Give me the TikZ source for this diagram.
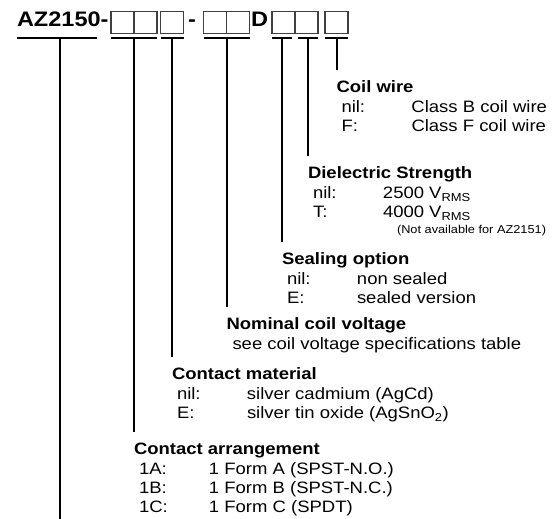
\documentclass[tikz,border=0pt]{standalone}
\usepackage{fontspec}
\setmainfont{Liberation Sans}[FakeStretch=1.12]
\usetikzlibrary{positioning}
\tikzset{
  base/.style={inner sep=0pt, outer sep=0pt},
  code/.style={base, font=\bfseries\fontsize{21}{24}\selectfont},
  slot/.style={base, rectangle, draw=black!75, line width=1.1pt, minimum width=23pt, minimum height=21.5pt},
  bar/.style={line width=2pt},
  stem/.style={line width=2pt},
  group/.style={base, anchor=north west, align=left, font=\fontsize{16.5}{18.7}\selectfont}
}
\newcommand{\head}[1]{\strut\textbf{#1}\\[2pt]}
\newcommand{\optrow}[2]{\hspace*{5pt}\makebox[70pt][l]{#1}#2}

\begin{document}
\begin{tikzpicture}[x=1pt, y=-1pt, node distance=0pt]
    \useasboundingbox (0,0) rectangle (560,519);

    \node[code, anchor=base west] (pn) at (17,27) {AZ2150-};
    \node[slot] (b1) at (122.5,22.5) {};
    \node[slot, right=of b1] (b2) {};
    \node[slot, right=3.5pt of b2] (b3) {};
    \node[slot, right=20pt of b3] (b4) {};
    \node[slot, right=of b4] (b5) {};
    \node[slot, right=22.5pt of b5] (b6) {};
    \node[slot, right=of b6] (b7) {};
    \node[slot, right=7pt of b7] (b8) {};
    \node[code, anchor=base] (dash) at (192,27) {-};
    \node[code, anchor=base] (dtype) at (259.5,27) {D};

    \coordinate (barline) at (0,38.5);
    \draw[bar] (pn.west |- barline) -- ++(80,0) coordinate[pos=.54] (tpn);
    \draw[bar] (b1.west |- barline) -- (b2.east |- barline) coordinate[midway] (t12);
    \draw[bar] (b3.west |- barline) -- (b3.east |- barline) coordinate[midway] (t3);
    \draw[bar] (b4.west |- barline) -- (b5.east |- barline) coordinate[midway] (t45);
    \draw[bar] (b6.west |- barline) -- ++(20,0) coordinate[midway] (t6);
    \draw[bar] (b7.east |- barline) -- ++(-20,0) coordinate[midway] (t7);
    \draw[bar] (b8.west |- barline) -- (b8.east |- barline) coordinate[midway] (t8);

    \node[group] (coil) at (t8 |- 0,79.05) {\head{Coil wire}\optrow{nil:}{Class B coil wire}\\\optrow{F:}{Class F coil wire}};
    \node[group] (diel) at (t7 |- 0,165.05) {\head{Dielectric Strength}\optrow{nil:}{2500 V\textsubscript{RMS}}\\\optrow{T:}{4000 V\textsubscript{RMS}}\\[-3pt]{\fontsize{11.4}{12}\selectfont\hspace*{89pt}(Not available for AZ2151)}};
    \node[group] (seal) at (t6 |- 0,251.05) {\head{Sealing option}\optrow{nil:}{non sealed}\\\optrow{E:}{sealed version}};
    \node[group] (nomv) at (t45 |- 0,316.05) {\head{Nominal coil voltage}\hspace*{6pt}see coil voltage specifications table};
    \node[group] (cmat) at (t3 |- 0,366.05) {\head{Contact material}\optrow{nil:}{silver cadmium (AgCd)}\\\optrow{E:}{silver tin oxide (AgSnO\textsubscript{2})}};
    \node[group] (carr) at (t12 |- 0,441.05) {\head{Contact arrangement}\optrow{1A:}{1 Form A (SPST-N.O.)}\\\optrow{1B:}{1 Form B (SPST-N.C.)}\\\optrow{1C:}{1 Form C (SPDT)}};
    \coordinate (bottom) at (tpn |- 0,519);

    \draw[stem] (tpn) -- (bottom);
    \draw[stem] (t12) -- ([yshift=9.5pt]carr.north west);
    \draw[stem] (t3) -- ([yshift=9.5pt]cmat.north west);
    \draw[stem] (t45) -- ([yshift=9.5pt]nomv.north west);
    \draw[stem] (t6) -- ([yshift=9.5pt]seal.north west);
    \draw[stem] (t7) -- ([yshift=9.5pt]diel.north west);
    \draw[stem] (t8) -- ([yshift=9.5pt]coil.north west);
\end{tikzpicture}
\end{document}
